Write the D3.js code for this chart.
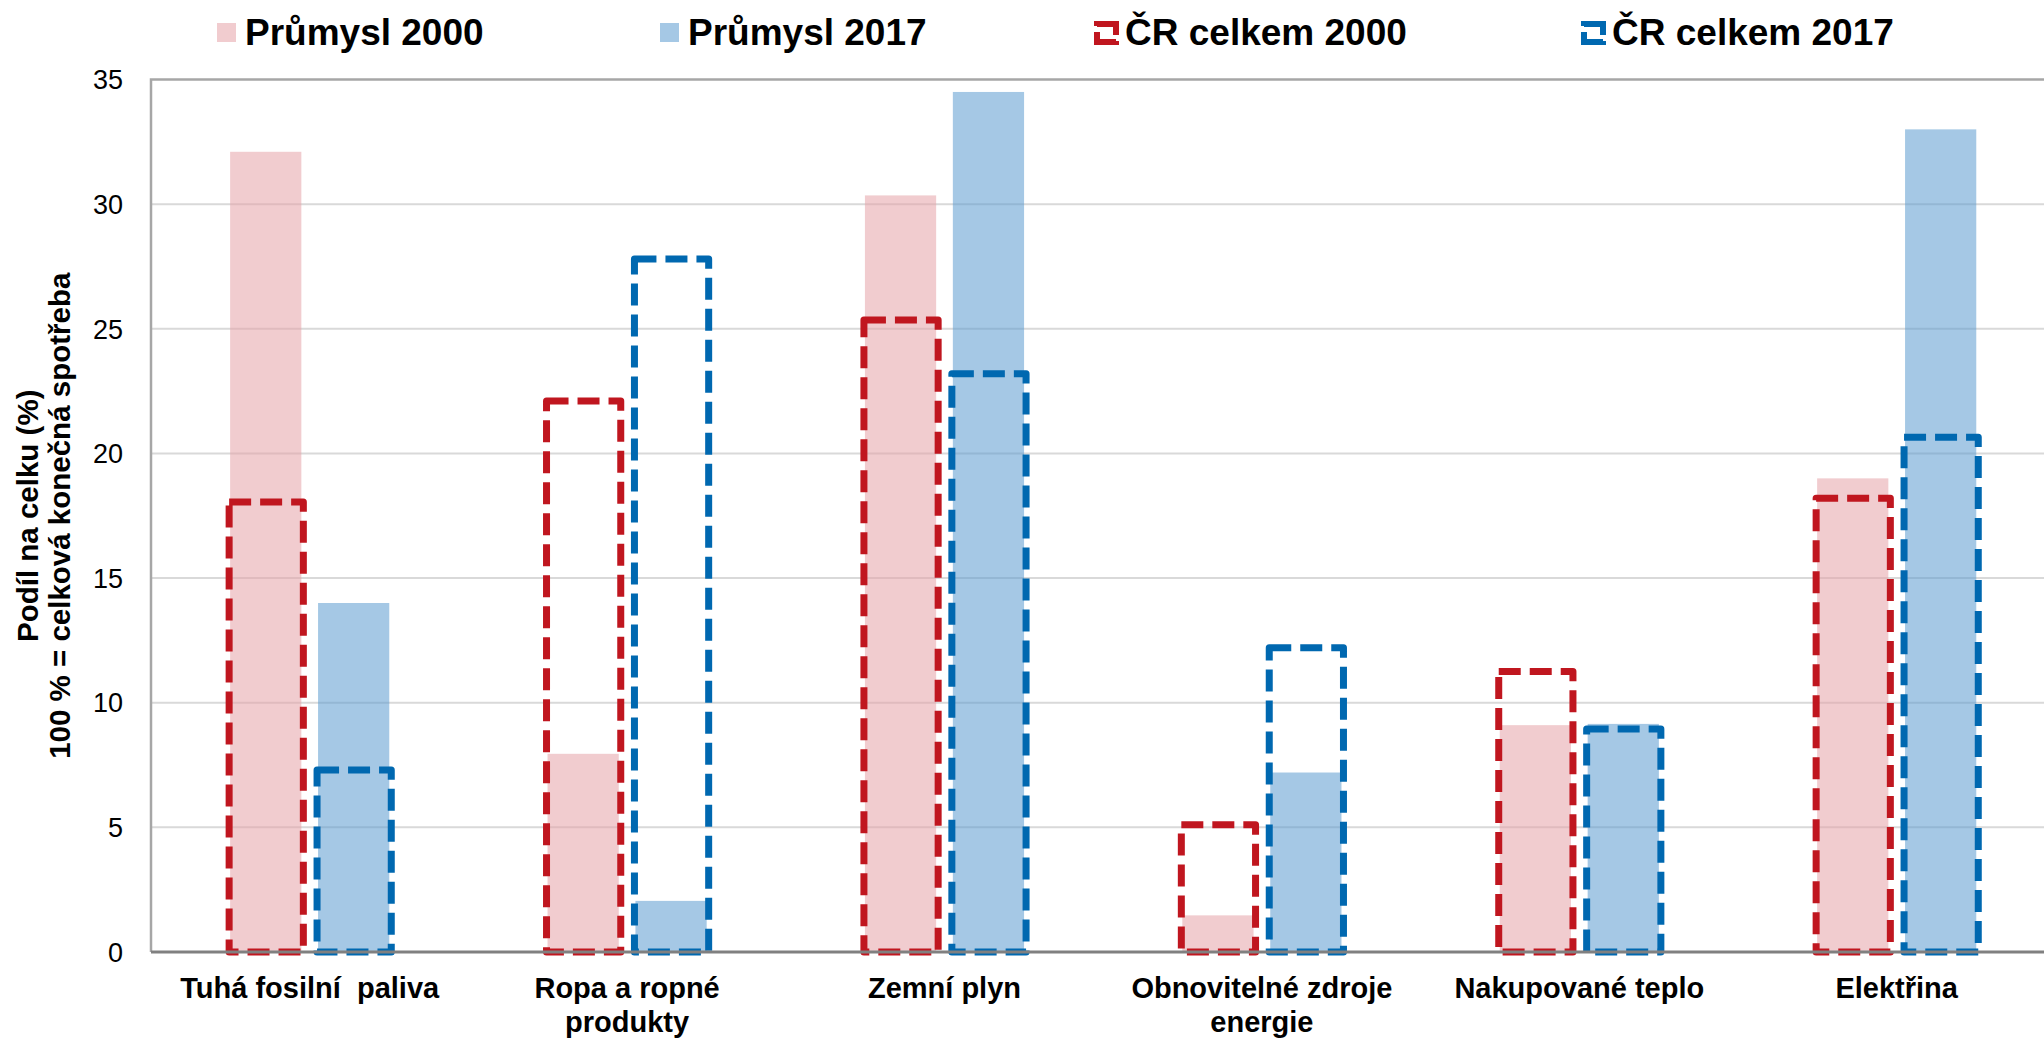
<!DOCTYPE html>
<html>
<head>
<meta charset="utf-8">
<script src="https://cdn.jsdelivr.net/npm/d3@7"></script>
<style>
  body { margin: 0; background: #fff; }
  text { font-family: "Liberation Sans", Arial, sans-serif; }
</style>
</head>
<body>
<div id="chart"></div>
<script>
"use strict";

// data
const categories = ["Tuhá fosilní  paliva", "Ropa a ropné produkty", "Zemní plyn",
                    "Obnovitelné zdroje energie", "Nakupované teplo", "Elektřina"];
const categoryLines = [["Tuhá fosilní  paliva"], ["Ropa a ropné", "produkty"], ["Zemní plyn"],
                       ["Obnovitelné zdroje", "energie"], ["Nakupované teplo"], ["Elektřina"]];
const years = ["2000", "2017"];
const prumysl2000 = [32.1, 7.95, 30.35, 1.47, 9.1, 19.0];
const prumysl2017 = [14.0, 2.05, 34.5, 7.2, 9.15, 33.0];
const cr2000 = [18.05, 22.1, 25.35, 5.1, 11.25, 18.2];
const cr2017 = [7.3, 27.8, 23.2, 12.2, 8.95, 20.65];
const yTicks = [0, 5, 10, 15, 20, 25, 30, 35];
const legendLabels = ["Průmysl 2000", "Průmysl 2017", "ČR celkem 2000", "ČR celkem 2017"];

const W = 2044, H = 1038;
const plotLeft = 151, plotTop = 79.5, plotBottom = 952;

const svg = d3.select("#chart").append("svg")
    .attr("width", W).attr("height", H);

const x0 = d3.scaleBand().domain(categories).range([plotLeft, plotLeft + 6 * 317.4]);
const x1 = d3.scaleBand().domain(years).range([0, x0.bandwidth()])
    .paddingInner(0.19).paddingOuter(0.9);
const y = d3.scaleLinear().domain([0, 35]).range([plotBottom, plotTop]);

// gridlines
svg.append("g").selectAll("line")
  .data(yTicks.filter(d => d > 0 && d < 35))
  .join("line")
    .attr("x1", plotLeft).attr("x2", W)
    .attr("y1", d => y(d)).attr("y2", d => y(d))
    .attr("stroke", "#d9d9d9").attr("stroke-width", 2);

// plot frame (top + left)
svg.append("path")
    .attr("d", `M${plotLeft},${plotBottom}V${y(35)}H${W}`)
    .attr("fill", "none").attr("stroke", "#a6a6a6").attr("stroke-width", 2.5);

// y tick labels
svg.append("g").selectAll("text")
  .data(yTicks)
  .join("text")
    .attr("x", 123).attr("y", d => y(d))
    .attr("dy", "0.36em")
    .attr("text-anchor", "end")
    .style("font-size", "27px")
    .text(d => d);

const fillRows = [
  { year: "2000", vals: prumysl2000, color: "#e5a3a7" },
  { year: "2017", vals: prumysl2017, color: "#5b9bd0" }
];
const dashRows = [
  { year: "2000", vals: cr2000, color: "#c0161f" },
  { year: "2017", vals: cr2017, color: "#0068b0" }
];

// filled bars (industry)
fillRows.forEach(r => {
  svg.append("g").selectAll("rect")
    .data(categories)
    .join("rect")
      .attr("x", (c) => x0(c) + x1(r.year))
      .attr("width", x1.bandwidth())
      .attr("y", (c, i) => y(r.vals[i]))
      .attr("height", (c, i) => y(0) - y(r.vals[i]))
      .attr("fill", r.color)
      .attr("fill-opacity", 0.55);
});

// dashed outline bars (whole country)
dashRows.forEach(r => {
  svg.append("g").selectAll("rect")
    .data(categories)
    .join("rect")
      .attr("x", (c) => x0(c) + x1(r.year) - 1)
      .attr("width", x1.bandwidth() + 3)
      .attr("y", (c, i) => y(r.vals[i]))
      .attr("height", (c, i) => y(0) - y(r.vals[i]))
      .attr("fill", "none")
      .attr("stroke", r.color)
      .attr("stroke-width", 7)
      .attr("stroke-dasharray", "22,9")
      .attr("stroke-linejoin", "round");
});

// bottom axis line
svg.append("line")
    .attr("x1", plotLeft).attr("x2", W)
    .attr("y1", plotBottom).attr("y2", plotBottom)
    .attr("stroke", "#808080").attr("stroke-width", 3);

// x labels
const xl = svg.append("g").selectAll("text")
  .data(categories)
  .join("text")
    .attr("x", c => x0(c) + x0.bandwidth() / 2)
    .attr("y", 998)
    .attr("text-anchor", "middle")
    .style("font-size", "29px")
    .style("font-weight", "bold")
    .style("white-space", "pre");
xl.selectAll("tspan")
  .data((c, i) => categoryLines[i])
  .join("tspan")
    .attr("x", function() { return this.parentNode.getAttribute("x"); })
    .attr("dy", (d, j) => j === 0 ? 0 : 34)
    .text(d => d);

// y axis title
const yt = svg.append("text")
    .attr("transform", `translate(0,${(plotTop + plotBottom) / 2}) rotate(-90)`)
    .attr("text-anchor", "middle")
    .style("font-size", "29.5px")
    .style("font-weight", "bold");
yt.append("tspan").attr("x", 0).attr("y", 38).text("Podíl na celku (%)");
yt.append("tspan").attr("x", 0).attr("y", 70).text("100 % = celková konečná spotřeba");

// legend
const legendX = [217, 660, 1093, 1580];
const lg = svg.append("g");
legendLabels.forEach((lab, i) => {
  const g = lg.append("g").attr("transform", `translate(${legendX[i]},0)`);
  if (i < 2) {
    g.append("rect").attr("x", 0).attr("y", 23).attr("width", 19).attr("height", 19)
      .attr("fill", fillRows[i].color).attr("fill-opacity", 0.55);
  } else {
    g.append("rect").attr("x", 4).attr("y", 24).attr("width", 19).attr("height", 18)
      .attr("fill", "none").attr("stroke", dashRows[i - 2].color)
      .attr("stroke-width", 6).attr("stroke-dasharray", "30,6");
  }
  g.append("text")
    .attr("x", i < 2 ? 28 : 32).attr("y", 45)
    .style("font-size", "37px")
    .style("font-weight", "bold")
    .text(lab);
});
</script>
</body>
</html>
